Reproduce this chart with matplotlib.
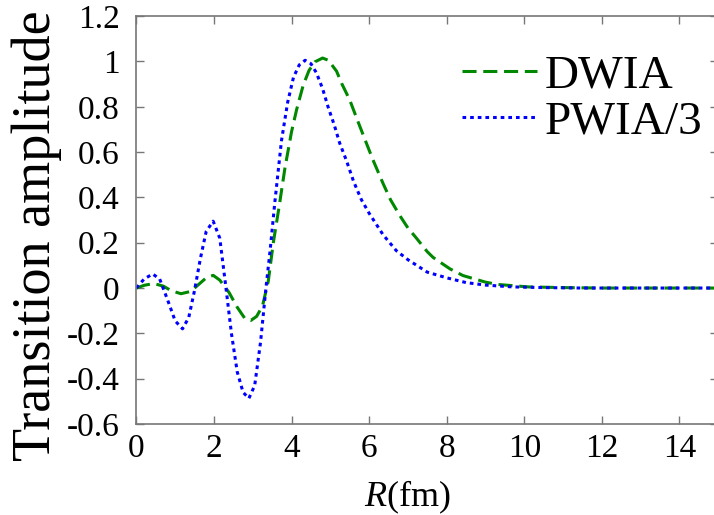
import numpy as np
import matplotlib.pyplot as plt

plt.rcParams['font.family'] = 'Liberation Serif'
plt.rcParams['mathtext.fontset'] = 'custom'
plt.rcParams['mathtext.rm'] = 'Liberation Serif'
plt.rcParams['mathtext.it'] = 'Liberation Serif:italic'
plt.rcParams['axes.unicode_minus'] = False

# DWIA transition amplitude
r_dwia = [0, 0.2, 0.45, 0.7, 0.9, 1.15, 1.4, 1.6, 1.8, 1.98, 2.15, 2.39, 2.6, 2.8,
          2.95, 3.1, 3.25, 3.4, 3.53, 3.68, 3.83, 4.0, 4.13, 4.3, 4.45, 4.6, 4.8,
          4.95, 5.16, 5.3, 5.5, 5.7, 5.93, 6.1, 6.36, 6.55, 6.79, 7.0, 7.22, 7.5,
          7.65, 8.08, 8.42, 9.0, 9.3, 10.1, 11.0, 12.0, 15.0]
a_dwia = [0, 0.012, 0.02, 0.008, -0.012, -0.025, -0.015, 0.015, 0.045, 0.056, 0.035,
          -0.02, -0.085, -0.135, -0.143, -0.125, -0.08, 0.03, 0.2, 0.36, 0.53, 0.69,
          0.787, 0.895, 0.96, 0.998, 1.015, 1.005, 0.957, 0.9, 0.83, 0.74, 0.639,
          0.565, 0.461, 0.39, 0.32, 0.265, 0.22, 0.16, 0.135, 0.085, 0.055, 0.026,
          0.016, 0.005, 0.002, 0.0, 0.0]

# PWIA amplitude divided by 3
r_pwia = [0, 0.2, 0.42, 0.6, 0.8, 1.0, 1.19, 1.35, 1.5, 1.65, 1.8, 1.98, 2.15, 2.31,
          2.45, 2.6, 2.75, 2.9, 3.05, 3.2, 3.34, 3.45, 3.57, 3.74, 3.9, 4.05, 4.2,
          4.35, 4.5, 4.64, 4.8, 4.94, 5.1, 5.24, 5.42, 5.6, 5.8, 6.0, 6.36, 6.7,
          7.0, 7.5, 8.0, 8.5, 9.0, 9.7, 10.5, 11.5, 13.0, 15.0]
a_pwia = [0, 0.04, 0.062, 0.04, -0.05, -0.145, -0.18, -0.13, -0.01, 0.13, 0.25, 0.295,
          0.22, 0.0, -0.2, -0.37, -0.46, -0.487, -0.43, -0.24, 0.0, 0.17, 0.38, 0.65,
          0.82, 0.93, 0.985, 1.005, 0.99, 0.95, 0.88, 0.8, 0.72, 0.64, 0.56, 0.47,
          0.39, 0.33, 0.235, 0.165, 0.125, 0.07, 0.045, 0.024, 0.013, 0.005, 0.002,
          0.0, 0.0, 0.0]

xticks = [0, 2, 4, 6, 8, 10, 12, 14]
yticks = [-0.6, -0.4, -0.2, 0, 0.2, 0.4, 0.6, 0.8, 1, 1.2]

fig = plt.figure(figsize=(7.14, 5.15), dpi=100)
ax = fig.add_axes([0.191, 0.1767, 0.815, 0.792])

ax.plot(r_dwia, a_dwia, color='#008800', lw=2.2, dashes=(4.6, 2.2), label='DWIA')
ax.plot(r_pwia, a_pwia, color='#0000ff', lw=2.2, dashes=(1.2, 1.3), label='PWIA/3')

ax.set_xlim(0, 15)
ax.set_ylim(-0.6, 1.2)
ax.set_xticks(xticks, labels=['%g' % v for v in xticks], fontsize=24)
ax.set_yticks(yticks, labels=['%g' % v for v in yticks], fontsize=24)
ax.tick_params(direction='in', length=6, width=1, color='#777777',
               top=True, right=True)
ax.tick_params(axis='y', pad=12)
ax.tick_params(axis='x', pad=7)
for s in ax.spines.values():
    s.set_color('#777777')
    s.set_linewidth(1.2)

ax.set_xlabel(r'$R$(fm)', fontsize=26)
ax.xaxis.set_label_coords(0.466, -0.135)
ax.set_ylabel('Transition amplitude', fontsize=39)
ax.yaxis.set_label_coords(-0.128, 0.462)

ax.legend(loc='upper left', bbox_to_anchor=(0.559, 0.907), frameon=False,
          fontsize=34, handlelength=1.6, handletextpad=0.15, labelspacing=0.08,
          borderpad=0, borderaxespad=0)

fig.savefig('out.png', dpi=100)
